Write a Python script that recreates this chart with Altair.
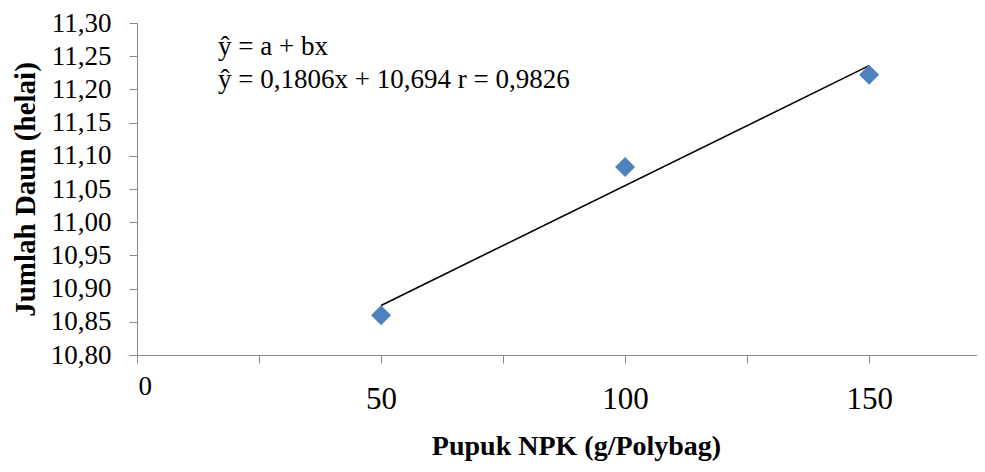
import altair as alt
import pandas as pd

# Data
npk = [50, 100, 150]
daun = [10.860, 11.083, 11.222]
trend_x = [50, 150]
trend_y = [10.8746, 11.2358]   # ŷ = 0,1806x + 10,694 (x = 1..3)
ann_text = ["ŷ = a + bx", "ŷ = 0,1806x + 10,694 r = 0,9826"]
ann_x = [16.6, 16.6]
ann_y = [11.264, 11.214]
x_ticks = [0, 25, 50, 75, 100, 125, 150, 175]
y_ticks = [10.80, 10.85, 10.90, 10.95, 11.00, 11.05, 11.10, 11.15, 11.20, 11.25, 11.30]

FONT = "Liberation Serif"

pts = pd.DataFrame({"x": npk, "y": daun})
trend = pd.DataFrame({"x": trend_x, "y": trend_y})
ann = pd.DataFrame({"x": ann_x, "y": ann_y, "t": ann_text})

xscale = alt.Scale(domain=[0, 172.1], nice=False, zero=False)
yscale = alt.Scale(domain=[10.80, 11.30], nice=False, zero=False)

xaxis = alt.Axis(
    values=x_ticks, tickCount=20,
    labelExpr="(datum.value % 50 == 0) ? format(datum.value, 'd') : ''",
    grid=False, domainColor="#888888", tickColor="#888888", tickSize=8,
    labelFont=FONT, labelColor="black", labelOverlap=False,
    labelFontSize={"condition": {"test": "datum.value == 0", "value": 27}, "value": 31},
    labelPadding={"condition": {"test": "datum.value == 0", "value": 10}, "value": 21},
    labelOffset={"condition": {"test": "datum.value == 0", "value": 1}, "value": 0},
    title="Pupuk NPK (g/Polybag)", titleFont=FONT, titleFontSize=28,
    titleFontWeight="bold", titleColor="black",
    titleX=439, titleY=91, titleBaseline="middle", titleAnchor="middle",
)
yaxis = alt.Axis(
    values=y_ticks, tickCount=20,
    labelExpr="replace(format(datum.value, '.2f'), '.', ',')",
    grid=False, domainColor="#888888", tickColor="#888888", tickSize=8,
    labelFont=FONT, labelFontSize=27, labelColor="black", labelPadding=18,
    labelOverlap=False,
    title="Jumlah Daun (helai)", titleFont=FONT, titleFontSize=29,
    titleFontWeight="bold", titleColor="black", titlePadding=10,
)

line = alt.Chart(trend).mark_line(color="black", strokeWidth=1.6).encode(
    x=alt.X("x:Q", scale=xscale, axis=xaxis),
    y=alt.Y("y:Q", scale=yscale, axis=yaxis),
)
points = alt.Chart(pts).mark_point(
    shape="diamond", filled=True, size=400, color="#4F81BD", opacity=1
).encode(x=alt.X("x:Q", scale=xscale), y=alt.Y("y:Q", scale=yscale))
text = alt.Chart(ann).mark_text(
    align="left", baseline="middle", font=FONT, fontSize=27, color="black"
).encode(x=alt.X("x:Q", scale=xscale), y=alt.Y("y:Q", scale=yscale), text="t:N")

chart = alt.layer(line, points, text).properties(
    width=840, height=332,
    autosize=alt.AutoSizeParams(type="none"),
    padding={"left": 129, "top": 15, "right": 0, "bottom": 109},
).configure_view(stroke=None).configure_axisY(
    labelFont=FONT, labelFontSize=27
).configure_axis(labelFont=FONT, titleFont=FONT)

chart.save("out.html", embed_options={"renderer": "svg", "actions": False})
